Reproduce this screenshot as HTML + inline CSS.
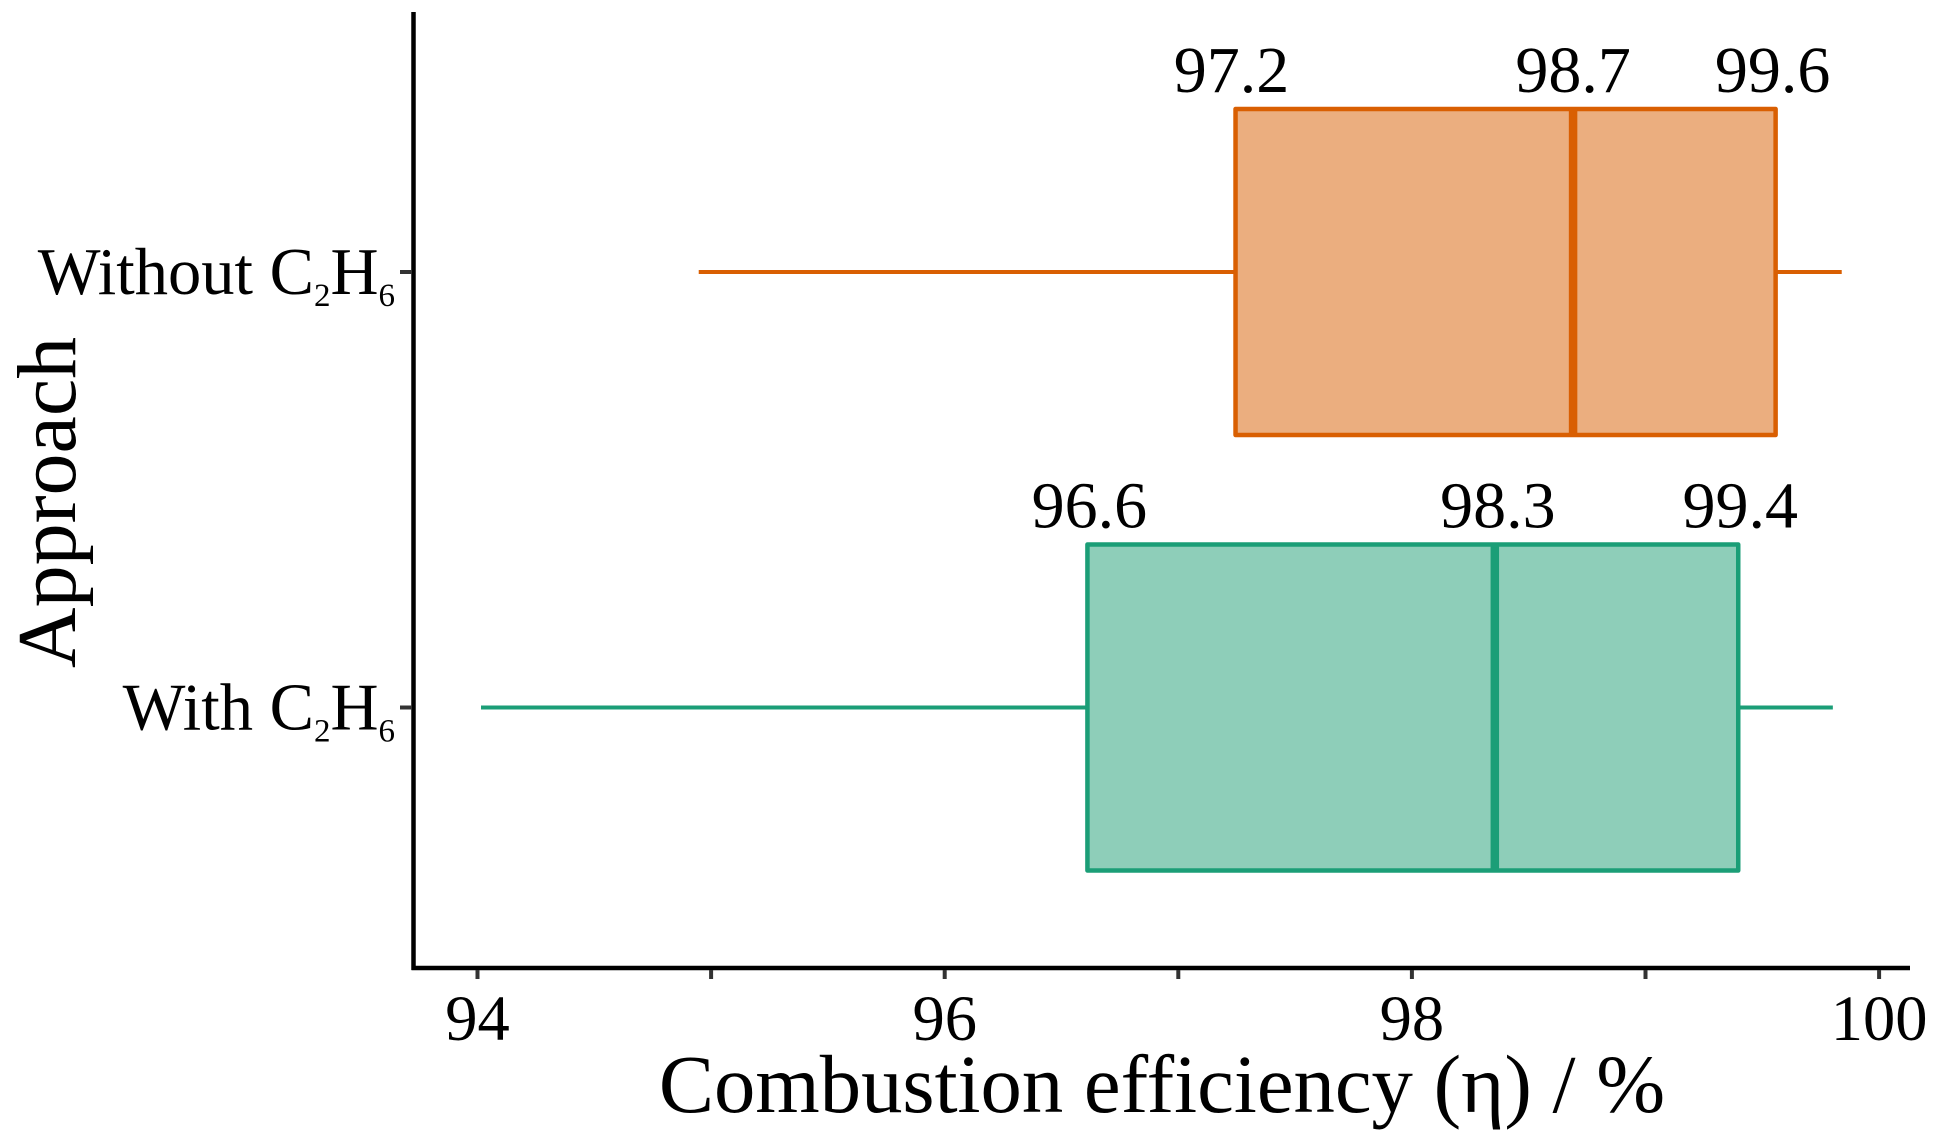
<!DOCTYPE html>
<html>
<head>
<meta charset="utf-8">
<style>
html,body{margin:0;padding:0;background:#fff;}
svg{display:block;}
text{font-family:"Liberation Serif",serif;fill:#000;}
</style>
</head>
<body>
<svg id="chart" xmlns="http://www.w3.org/2000/svg" width="1943" height="1142" viewBox="0 0 1943 1142">
  <rect x="0" y="0" width="1943" height="1142" fill="#ffffff"/>
  <g id="marks"></g>
  <line x1="413.5" y1="12" x2="413.5" y2="970" stroke="#000" stroke-width="4.5"/>
  <line x1="411.5" y1="968" x2="1910" y2="968" stroke="#000" stroke-width="4.5"/>
  <g id="axes"></g>
  <text x="1162" y="1112" font-size="82.7" text-anchor="middle">Combustion efficiency (η) / %</text>
  <text transform="translate(75,502.5) rotate(-90)" font-size="84" text-anchor="middle">Approach</text>
</svg>
<script>
const categories = ["Without C2H6", "With C2H6"];
const whiskerLow = [94.947, 94.015];
const q1 = [97.245, 96.611];
const median = [98.69, 98.355];
const q3 = [99.557, 99.397];
const whiskerHigh = [99.84, 99.802];
const q1Labels = ["97.2", "96.6"];
const medianLabels = ["98.7", "98.3"];
const q3Labels = ["99.6", "99.4"];
const xTicks = [94, 95, 96, 97, 98, 99, 100];
const xTickLabels = ["94", "", "96", "", "98", "", "100"];
const strokeColors = ["#D95F02", "#1B9E77"];
const fillColors = ["#EBAE7F", "#8ECEB9"];

const NS = "http://www.w3.org/2000/svg";
const marks = document.getElementById("marks");
const axes = document.getElementById("axes");

function xScale(v) { return 477.5 + (v - 94) * 233.6; }
function yScale(i) { return 272 + i * 435.5; }
const boxHalfHeight = 163;

function make(tag, attrs, parent) {
  const el = document.createElementNS(NS, tag);
  for (const k in attrs) el.setAttribute(k, attrs[k]);
  parent.appendChild(el);
  return el;
}

categories.forEach(function (cat, i) {
  const y = yScale(i);
  const color = strokeColors[i];

  const whisker = make("line", { x1: xScale(whiskerLow[i]), x2: xScale(whiskerHigh[i]), y1: y, y2: y, stroke: color, "stroke-width": 4 }, marks);
  
  

  const box = make("rect", { x: xScale(q1[i]), y: y - boxHalfHeight, width: xScale(q3[i]) - xScale(q1[i]), height: boxHalfHeight * 2, fill: fillColors[i], stroke: color, "stroke-width": 4.5, "stroke-linejoin": "round" }, marks);
  
  

  const med = make("line", { x1: xScale(median[i]), x2: xScale(median[i]), y1: y - boxHalfHeight, y2: y + boxHalfHeight, stroke: color, "stroke-width": 8.5 }, marks);
  
  

  const labelY = y - boxHalfHeight - 17;

  const q1Text = make("text", { x: xScale(q1[i]) + (i === 0 ? -4 : 2), y: labelY, "font-size": 66, "text-anchor": "middle" }, marks);
  q1Text.textContent = q1Labels[i];
  
  

  const medText = make("text", { x: xScale(median[i]) + (i === 0 ? 0 : 3), y: labelY, "font-size": 66, "text-anchor": "middle" }, marks);
  medText.textContent = medianLabels[i];
  
  

  const q3Text = make("text", { x: xScale(q3[i]) + (i === 0 ? -3 : 2), y: labelY, "font-size": 66, "text-anchor": "middle" }, marks);
  q3Text.textContent = q3Labels[i];
  
  

  const tick = make("line", { x1: 400, x2: 412, y1: y, y2: y, stroke: "#333", "stroke-width": 4 }, axes);
  
  

  const catText = make("text", { x: 395, y: y + 22, "font-size": 66.5, "text-anchor": "end" }, axes);
  
  
  cat.split(/(\d)/).forEach(function (part) {
    if (!part) return;
    const isSub = /\d/.test(part);
    const span = make("tspan", isSub ? { "font-size": 33, dy: 12 } : { "font-size": 66.5, dy: catText.childNodes.length ? -12 : 0 }, catText);
    span.textContent = part;
  });
});

xTicks.forEach(function (t, i) {
  const x = xScale(t);
  const tick = make("line", { x1: x, x2: x, y1: 970, y2: 979, stroke: "#333", "stroke-width": 4 }, axes);
  
  
  if (xTickLabels[i]) {
    const label = make("text", { x: x, y: 1040, "font-size": 64.5, "text-anchor": "middle" }, axes);
    label.textContent = xTickLabels[i];
    
    
  }
});
</script>
</body>
</html>
